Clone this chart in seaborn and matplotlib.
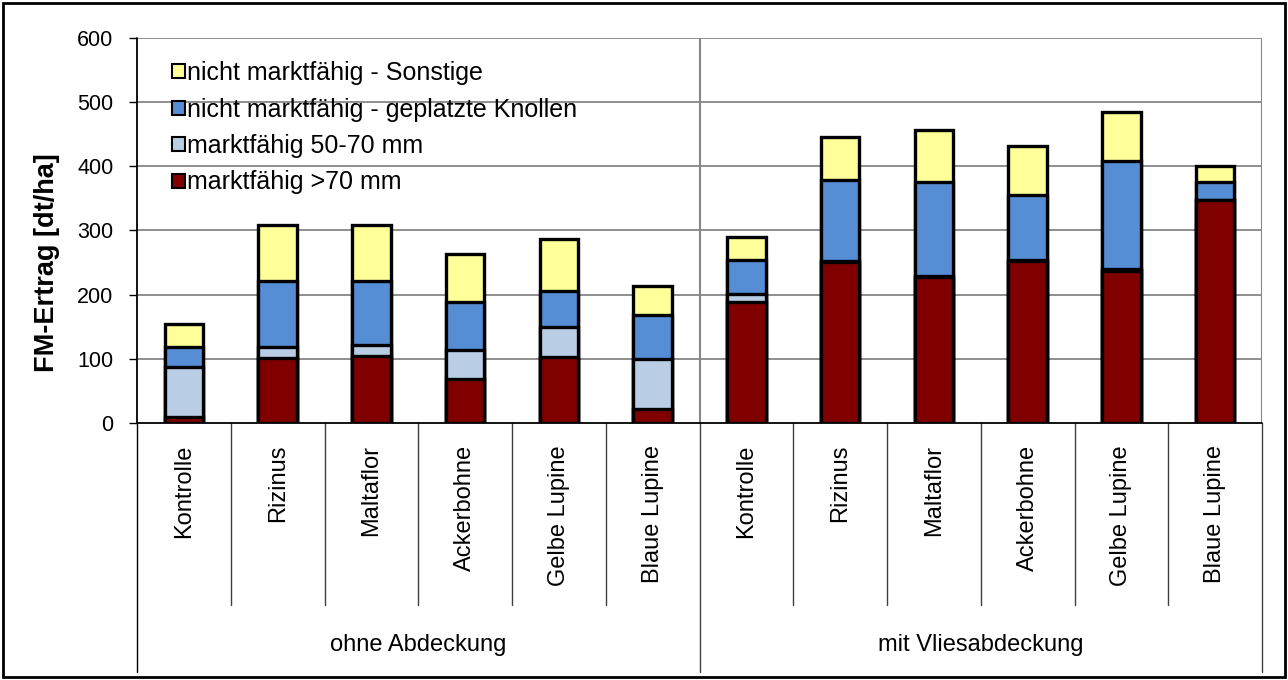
import numpy as np
import pandas as pd
import matplotlib
matplotlib.use("Agg")
import matplotlib.pyplot as plt
import matplotlib.transforms as mtransforms
from matplotlib.patches import Patch, Rectangle
import seaborn as sns

# ---------------- data ----------------
groups = ["ohne Abdeckung", "mit Vliesabdeckung"]
varianten = ["Kontrolle", "Rizinus", "Maltaflor", "Ackerbohne", "Gelbe Lupine", "Blaue Lupine"]

series_names = ["marktfähig >70 mm", "marktfähig 50-70 mm",
                "nicht marktfähig - geplatzte Knollen", "nicht marktfähig - Sonstige"]

# ohne Abdeckung
ohne_gt70 = [10, 101, 104, 69, 103, 22]
ohne_50_70 = [78, 17, 17, 44, 47, 78]
ohne_geplatzt = [31, 103, 101, 75, 56, 69]
ohne_sonstige = [35, 87, 87, 76, 80, 45]

# mit Vliesabdeckung
mit_gt70 = [188, 251, 228, 253, 237, 347]
mit_50_70 = [13, 1, 1, 1, 3, 1]
mit_geplatzt = [53, 127, 146, 102, 168, 28]
mit_sonstige = [36, 67, 81, 76, 76, 24]

y_ticks = [0, 100, 200, 300, 400, 500, 600]

colors = ["#800000", "#B9CDE5", "#558ED5", "#FFFF99"]

# ---------------- build table ----------------
slots = [f"{g}|{v}" for g in groups for v in varianten]
layers = [ohne_gt70 + mit_gt70, ohne_50_70 + mit_50_70,
          ohne_geplatzt + mit_geplatzt, ohne_sonstige + mit_sonstige]
df = pd.DataFrame({"slot": slots})
for name, vals in zip(series_names, layers):
    df[name] = vals
cum = df[series_names].cumsum(axis=1)

# ---------------- figure ----------------
sns.set_style("white")
plt.rcParams["font.family"] = ["Liberation Sans", "DejaVu Sans"]
plt.rcParams["text.color"] = "black"
plt.rcParams["ytick.color"] = "black"
plt.rcParams["ytick.labelcolor"] = "black"

W, H = 1288, 680
fig = plt.figure(figsize=(W / 100, H / 100), dpi=100)
x0, x1, ytop, ybot = 137, 1262, 38, 423
ax = fig.add_axes([x0 / W, 1 - ybot / H, (x1 - x0) / W, (ybot - ytop) / H])

# stacked bars: draw cumulative totals from top layer down
for i in range(len(series_names) - 1, -1, -1):
    sns.barplot(x=df["slot"], y=cum[series_names[i]], order=slots, ax=ax,
                color=colors[i], saturation=1, width=0.41, errorbar=None,
                edgecolor="black", linewidth=2.4, zorder=3)

ax.set_xlim(-0.5, 11.5)
ax.set_ylim(0, 600)
ax.set_yticks(y_ticks)
ax.set_yticklabels([str(t) for t in y_ticks], fontsize=15.5, color="black")
ax.set_xticks([])
ax.set_xlabel("")
ax.set_ylabel("")
ax.tick_params(axis="y", direction="out", length=6, width=1, color="black", pad=11, left=True)

# grid
for t in y_ticks[1:]:
    ax.axhline(t, color="#868686", lw=1.3, zorder=1)
ax.axvline(5.5, color="#868686", lw=1.5, zorder=1)

for s in ["top", "bottom", "left", "right"]:
    ax.spines[s].set_visible(False)
ax.axhline(0, color="black", lw=1.3, zorder=4, clip_on=False)
ax.axvline(-0.5, color="black", lw=1.3, zorder=4, clip_on=False)
ax.axvline(11.5, color="#868686", lw=1.5, zorder=1)

# category axis below
trans = mtransforms.blended_transform_factory(ax.transData, ax.transAxes)
h_ax = ybot - ytop
cat_bottom = -(605 - ybot) / h_ax
grp_bottom = -(672 - ybot) / h_ax
for b in [0.5, 1.5, 2.5, 3.5, 4.5, 6.5, 7.5, 8.5, 9.5, 10.5]:
    ax.plot([b, b], [0, cat_bottom], transform=trans, color="#404040", lw=1, clip_on=False)
for b, c in [(-0.5, "black"), (5.5, "#404040"), (11.5, "#404040")]:
    ax.plot([b, b], [0, grp_bottom], transform=trans, color=c, lw=1, clip_on=False)

lab_top = -(445 - ybot) / h_ax
for i, s in enumerate(slots):
    ax.text(i, lab_top, s.split("|")[1], rotation=90, ha="center", va="top",
            fontsize=17, color="black", transform=trans)
grp_y = -(645 - ybot) / h_ax
ax.text(2.5, grp_y, groups[0], ha="center", va="center", fontsize=17, color="black", transform=trans)
ax.text(8.5, grp_y, groups[1], ha="center", va="center", fontsize=17, color="black", transform=trans)

# y label
fig.text(47 / W, 1 - 263 / H, "FM-Ertrag [dt/ha]", rotation=90, ha="center", va="center",
         fontsize=19.5, fontweight="bold", color="black")

# legend
handles = [Patch(facecolor=colors[i], edgecolor="black", linewidth=1.5, label=series_names[i])
           for i in range(len(series_names) - 1, -1, -1)]
leg = ax.legend(handles=handles, loc="upper left", bbox_to_anchor=(172 / W, 1 - 61 / H),
                bbox_transform=fig.transFigure, frameon=False, fontsize=18,
                handlelength=0.5, handleheight=0.5, handletextpad=0.1,
                labelspacing=0.5, borderpad=0, borderaxespad=0, labelcolor="black")

# outer border
fig.add_artist(Rectangle((3 / W, 3 / H), (W - 6) / W, (H - 6) / H, transform=fig.transFigure,
                         fill=False, edgecolor="black", lw=2))

fig.savefig("out.png", dpi=100, facecolor="white")
